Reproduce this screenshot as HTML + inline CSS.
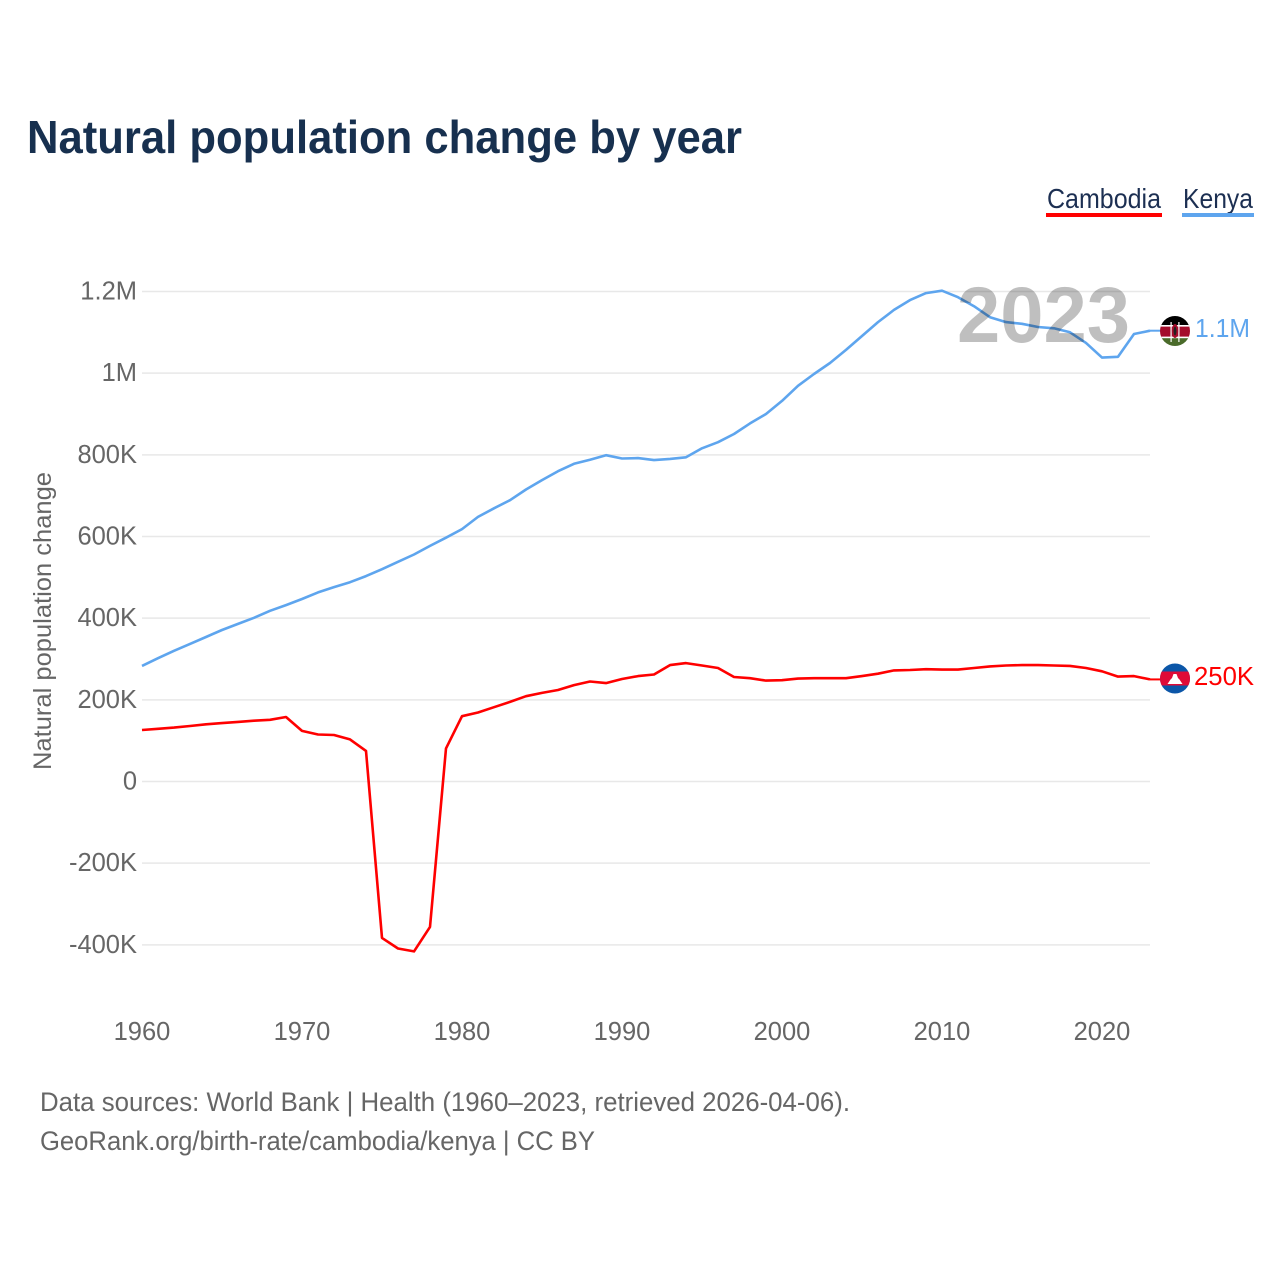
<!DOCTYPE html>
<html lang="en">
<head>
<meta charset="utf-8">
<title>Natural population change by year</title>
<style>
html,body{margin:0;padding:0;background:#fff;}
svg{display:block;font-family:"Liberation Sans",sans-serif;}
</style>
</head>
<body>
<svg id="chart" width="1280" height="1280" viewBox="0 0 1280 1280" xmlns="http://www.w3.org/2000/svg">
  <defs>
    <clipPath id="flag-clip-k"><circle cx="1175" cy="331" r="15"/></clipPath>
    <clipPath id="flag-clip-c"><circle cx="1175" cy="678.5" r="15"/></clipPath>
  </defs>
  <rect width="1280" height="1280" fill="#fff"/>
  <text x="27" y="153" font-size="46" font-weight="700" fill="#17304f" textLength="715" lengthAdjust="spacingAndGlyphs">Natural population change by year</text>

  <g>
    <g>
      <text x="1047" y="208" font-size="28" fill="#1c2f52" textLength="114" lengthAdjust="spacingAndGlyphs">Cambodia</text>
      <rect x="1046" y="213" width="116" height="4" fill="#ff0000"/>
    </g>
    <g>
      <text x="1183" y="208" font-size="28" fill="#1c2f52" textLength="70" lengthAdjust="spacingAndGlyphs">Kenya</text>
      <rect x="1182" y="213" width="72" height="4" fill="#5ea5ee"/>
    </g>
  </g>

  <text transform="translate(51,770) rotate(-90)" font-size="25" fill="#666" textLength="298" lengthAdjust="spacingAndGlyphs">Natural population change</text>

  <g id="grid"></g>
  <g id="yticks"></g>
  <g id="xticks"></g>
  <g id="series"></g>

  <text x="957" y="342" font-size="79" font-weight="700" fill="#000" fill-opacity="0.25" textLength="173" lengthAdjust="spacingAndGlyphs">2023</text>

  <g id="flag-kenya" clip-path="url(#flag-clip-k)">
    <rect x="1160" y="316" width="30" height="10" fill="#000"/>
    <rect x="1160" y="326" width="30" height="11" fill="#a40d2c"/>
    <rect x="1160" y="337" width="30" height="10" fill="#4a6b2a"/>
    <rect x="1160" y="325" width="30" height="1.6" fill="#fff"/>
    <rect x="1160" y="336.6" width="30" height="1.6" fill="#fff"/>
    <rect x="1170.5" y="322" width="1.2" height="20" fill="#fff"/>
    <rect x="1178.3" y="322" width="1.2" height="20" fill="#fff"/>
    <ellipse cx="1175" cy="331" rx="3.2" ry="7" fill="#a40d2c"/>
    <ellipse cx="1175" cy="331" rx="1.4" ry="4.5" fill="#222"/>
  </g>
  <g id="flag-cambodia" clip-path="url(#flag-clip-c)">
    <rect x="1160" y="663" width="30" height="31" fill="#0b56a8"/>
    <rect x="1160" y="671.5" width="30" height="14" fill="#df0a37"/>
    <polygon points="1167.5,684 1170.5,679.5 1172,678 1173.5,674 1176.5,674 1178,678 1179.5,679.5 1182.5,684" fill="#fff"/>
  </g>

  <text id="label-kenya" x="1195" y="337" font-size="26" fill="#5ea5ee" textLength="55" lengthAdjust="spacingAndGlyphs">1.1M</text>
  <text id="label-cambodia" x="1194" y="685" font-size="26" fill="#ff0000" textLength="60" lengthAdjust="spacingAndGlyphs">250K</text>

  <g>
    <text x="40" y="1111" font-size="27" fill="#666" textLength="810" lengthAdjust="spacingAndGlyphs">Data sources: World Bank | Health (1960–2023, retrieved 2026-04-06).</text>
    <text x="40" y="1150" font-size="27" fill="#666" textLength="555" lengthAdjust="spacingAndGlyphs">GeoRank.org/birth-rate/cambodia/kenya | CC BY</text>
  </g>
</svg>
<script>
const startYear = 1960;
const kenyaValues = [283,302,320,337,354,371,386,401,418,432,447,463,476,488,503,520,538,556,577,597,618,648,669,689,715,738,760,778,788,799,791,792,787,790,794,816,831,851,877,900,932,969,998,1025,1057,1091,1125,1155,1179,1196,1202,1186,1164,1137,1125,1121,1113,1110,1100,1074,1038,1040,1096,1104];
const cambodiaValues = [126,129,132,136,140,143,146,149,151,158,124,115,114,103,75,-383,-409,-416,-356,81,160,169,182,195,209,217,224,236,245,241,251,258,262,285,290,284,278,256,253,247,248,252,253,253,253,258,264,272,273,275,274,274,278,282,284,285,285,284,283,278,270,257,258,250];
const yTickValues = [1200,1000,800,600,400,200,0,-200,-400];
const yTickLabels = ['1.2M','1M','800K','600K','400K','200K','0','-200K','-400K'];
const xTickYears = [1960,1970,1980,1990,2000,2010,2020];

const NS = 'http://www.w3.org/2000/svg';
function xScale(year){ return 142 + (year - 1960) * 16; }
function yScale(v){ return 781.5 - v * 490 / 1200; }
function make(tag, attrs, parent){
  const el = document.createElementNS(NS, tag);
  for (const k in attrs) el.setAttribute(k, attrs[k]);
  parent.appendChild(el);
  return el;
}

const grid = document.getElementById('grid');
const yticks = document.getElementById('yticks');
const xticks = document.getElementById('xticks');
const series = document.getElementById('series');

yTickValues.forEach(function(v, i){
  const line = make('line', {x1:142, x2:1150, y1:yScale(v), y2:yScale(v), stroke:'#e8e8e8', 'stroke-width':1.5}, grid);
  
  
  const t = make('text', {x:137, y:yScale(v)+8, 'text-anchor':'end', 'font-size':25.5, fill:'#666'}, yticks);
  
  
  t.textContent = yTickLabels[i];
});

xTickYears.forEach(function(y){
  const t = make('text', {x:xScale(y), y:1040, 'text-anchor':'middle', 'font-size':25.5, fill:'#666'}, xticks);
  
  
  t.textContent = String(y);
});

function drawSeries(values, color){
  const pts = values.map(function(v, i){ return xScale(startYear + i).toFixed(1) + ',' + yScale(v).toFixed(1); }).join(' ');
  const line = make('polyline', {points:pts, fill:'none', stroke:color, 'stroke-width':2.6, 'stroke-linejoin':'round'}, series);
  return line;
}
const cambodiaLine = drawSeries(cambodiaValues, '#ff0000');


const kenyaLine = drawSeries(kenyaValues, '#5ea5ee');



function drawConnector(values, color){
  const v = values[values.length - 1];
  const yearEnd = startYear + values.length - 1;
  return make('line', {x1:xScale(yearEnd), x2:xScale(yearEnd)+12, y1:yScale(v), y2:yScale(v), stroke:color, 'stroke-width':2}, series);
}
const kenyaConnector = drawConnector(kenyaValues, '#5ea5ee');


const cambodiaConnector = drawConnector(cambodiaValues, '#ff0000');


</script>
</body>
</html>
